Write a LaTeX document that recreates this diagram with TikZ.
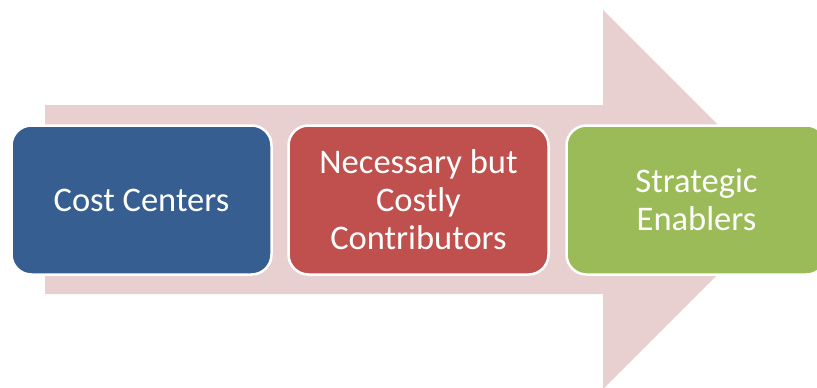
\documentclass[tikz,border=0pt]{standalone}
\usepackage{fontspec}
\setmainfont{Carlito}
\definecolor{arrowpink}{HTML}{E8CFD0}
\definecolor{boxblue}{HTML}{375E91}
\definecolor{boxred}{HTML}{C0504D}
\definecolor{boxgreen}{HTML}{9BBB59}
\begin{document}
\begin{tikzpicture}[x=1pt,y=-1pt,
  stagebox/.style={draw=white, line width=2.5pt, rounded corners=20pt,
    minimum width=260pt, minimum height=149pt, inner sep=0pt,
    text=white, align=center,
    font=\fontsize{34.5}{38}\selectfont}]
\useasboundingbox (0,0) rectangle (817,388);
% big arrow
\fill[arrowpink] (45,105) -- (603,105) -- (603,10) -- (792.5,199.5) -- (603,389) -- (603,294) -- (45,294) -- cycle;
\node[stagebox, fill=boxblue] (cost) at (141.5,200) {Cost Centers};
\node[stagebox, fill=boxred] (nec) at (418.5,200) {Necessary but\\Costly\\Contributors};
\node[stagebox, fill=boxgreen] (strat) at (696.5,200) {Strategic\\Enablers};
\end{tikzpicture}
\end{document}
